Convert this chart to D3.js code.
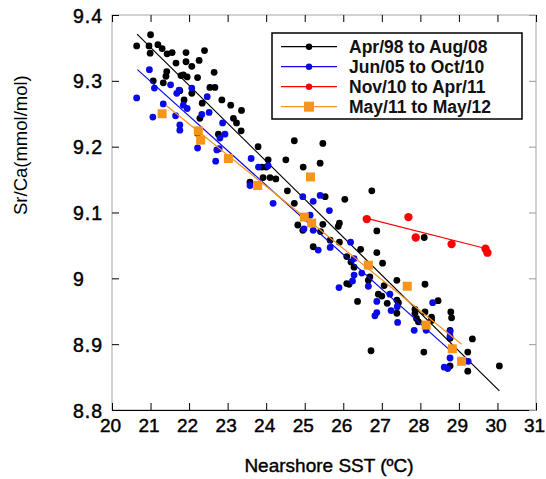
<!DOCTYPE html>
<html>
<head>
<meta charset="utf-8">
<script src="https://cdn.jsdelivr.net/npm/d3@7"></script>
<style>
  body { margin: 0; background: #fff; }
  svg { font-family: "Liberation Sans", Arial, sans-serif; }
</style>
</head>
<body>
<svg id="chart" width="546" height="479"></svg>
<script>
// Apr/98 to Aug/08 (black dots)
const aprAug = [
  [20.64, 9.353], [21.00, 9.370], [20.96, 9.353], [20.99, 9.342], [21.19, 9.355],
  [21.30, 9.349], [21.43, 9.341], [21.56, 9.343], [21.66, 9.327], [21.92, 9.343],
  [21.92, 9.329], [22.07, 9.322], [22.26, 9.331], [22.40, 9.346], [21.42, 9.314],
  [21.40, 9.307], [21.33, 9.297], [21.07, 9.300], [21.79, 9.308], [21.85, 9.309],
  [21.95, 9.306], [22.22, 9.305], [22.65, 9.313], [22.54, 9.290], [22.67, 9.290],
  [21.87, 9.271], [22.85, 9.271], [23.08, 9.263], [23.36, 9.255], [23.15, 9.243],
  [23.23, 9.236], [23.35, 9.224], [22.76, 9.219], [22.28, 9.243], [22.34, 9.266],
  [21.76, 9.285], [22.07, 9.281], [23.79, 9.200], [24.05, 9.180], [24.51, 9.180],
  [24.73, 9.209], [23.89, 9.169], [24.00, 9.169], [23.92, 9.153], [24.10, 9.153],
  [24.25, 9.151], [24.55, 9.133], [24.73, 9.114], [24.82, 9.081], [23.58, 9.146],
  [25.47, 9.205], [24.96, 9.169], [25.40, 9.175], [25.53, 9.124], [26.04, 9.120],
  [26.74, 9.133], [25.90, 9.084], [25.87, 9.079], [25.47, 9.082], [24.95, 9.073],
  [25.41, 9.071], [25.66, 9.058], [25.90, 9.055], [25.22, 9.048], [26.87, 9.072],
  [28.10, 9.062], [26.45, 9.044], [26.87, 9.039], [26.09, 9.033], [26.20, 9.025],
  [27.02, 9.023], [26.28, 9.017], [26.69, 9.002], [27.39, 8.997], [26.65, 8.997],
  [26.09, 8.992], [26.15, 8.991], [27.06, 8.989], [28.12, 8.991], [26.37, 8.965],
  [26.91, 8.976], [27.00, 8.973], [27.14, 8.962], [27.39, 8.967], [27.43, 8.963],
  [27.39, 8.947], [27.86, 8.953], [27.86, 8.947], [28.12, 8.949], [28.29, 8.941],
  [28.29, 8.936], [27.90, 8.939], [27.95, 8.934], [28.46, 8.966], [28.79, 8.949],
  [28.81, 8.940], [28.77, 8.921], [28.77, 8.909], [29.35, 8.908], [29.23, 8.888],
  [28.09, 8.888], [26.72, 8.890], [28.77, 8.867], [29.23, 8.859], [30.05, 8.867]
];

// Jun/05 to Oct/10 (blue dots)
const junOct = [
  [20.64, 9.274], [20.97, 9.317], [21.10, 9.289], [21.06, 9.245], [21.33, 9.265],
  [21.52, 9.294], [21.68, 9.281], [21.74, 9.286], [21.85, 9.263], [21.95, 9.258],
  [22.07, 9.289], [21.65, 9.247], [21.76, 9.233], [21.76, 9.225], [22.33, 9.249],
  [22.47, 9.276], [22.52, 9.252], [22.22, 9.220], [22.22, 9.198], [22.87, 9.236],
  [22.80, 9.213], [22.93, 9.219], [22.78, 9.197], [22.72, 9.195], [22.69, 9.178],
  [23.61, 9.182], [23.80, 9.169], [24.05, 9.171], [23.58, 9.141], [24.18, 9.114],
  [24.95, 9.124], [25.22, 9.117], [25.40, 9.126], [25.64, 9.103], [24.98, 9.075],
  [25.22, 9.073], [25.14, 9.096], [25.35, 9.043], [25.66, 9.047], [26.19, 9.055],
  [26.28, 9.030], [26.28, 9.005], [26.48, 9.008], [26.24, 8.996], [26.65, 8.988],
  [25.89, 8.986], [26.87, 8.965], [27.21, 8.976], [27.40, 8.957], [27.24, 8.951],
  [26.87, 8.948], [26.82, 8.943], [27.41, 8.933], [27.84, 8.921], [28.15, 8.921],
  [28.32, 8.963], [28.77, 8.919], [28.77, 8.912], [28.77, 8.879], [29.24, 8.874],
  [28.62, 8.865], [28.71, 8.863]
];

// Nov/10 to Apr/11 (red dots)
const novApr = [
  [26.61, 9.090], [27.69, 9.093], [27.88, 9.062], [28.81, 9.052], [29.69, 9.045], [29.74, 9.039]
];

// May/11 to May/12 (orange squares)
const mayMay = [
  [21.30, 9.250], [22.24, 9.224], [22.30, 9.210], [23.02, 9.182], [23.78, 9.141],
  [25.15, 9.154], [24.99, 9.093], [25.18, 9.084], [26.65, 9.020], [27.66, 8.988],
  [28.15, 8.929], [28.83, 8.893], [29.07, 8.874]
];

// regression line end points
const fitAprAug = [[20.65, 9.371], [30.05, 8.829]];
const fitJunOct = [[20.66, 9.317], [28.80, 8.889]];
const fitNovApr = [[26.61, 9.091], [29.72, 9.045]];
const fitMayMay = [[21.40, 9.263], [29.07, 8.900]];

const xTicks = [20, 21, 22, 23, 24, 25, 26, 27, 28, 29, 30, 31];
const yTicks = [8.8, 8.9, 9.0, 9.1, 9.2, 9.3, 9.4];
const yTickLabels = ["8.8", "8.9", "9", "9.1", "9.2", "9.3", "9.4"];
const legendLabels = ["Apr/98 to Aug/08", "Jun/05 to Oct/10", "Nov/10 to Apr/11", "May/11 to May/12"];

const svg = d3.select("#chart");
const plotLeft = 112, plotRight = 536, plotTop = 15, plotBottom = 410;

const x = d3.scaleLinear().domain([20, 31]).range([plotLeft, plotRight]);
const y = d3.scaleLinear().domain([8.8, 9.4]).range([plotBottom, plotTop]);

// frame
svg.append("rect")
    .attr("x", plotLeft).attr("y", plotTop)
    .attr("width", plotRight - plotLeft).attr("height", plotBottom - plotTop)
    .attr("fill", "none")
    .attr("stroke", "#b5b5b5")
    .attr("stroke-width", 1.2);

// bottom axis, ticks pointing inward
const gx = svg.append("g")
    .attr("transform", "translate(0," + plotBottom + ")")
    .call(d3.axisBottom(x).tickValues(xTicks).tickFormat(d3.format("d")).tickSizeInner(-7).tickSizeOuter(0).tickPadding(9));
gx.select(".domain").attr("stroke", "#000").attr("stroke-width", 1.2);
gx.selectAll("text")
    .attr("font-size", 19).attr("font-family", "Liberation Sans, Arial, sans-serif")
    .attr("fill", "#000").attr("stroke", "#000").attr("stroke-width", 0.45)
    .attr("dx", -2);

// top ticks
const gt = svg.append("g")
    .attr("transform", "translate(0," + plotTop + ")")
    .call(d3.axisTop(x).tickValues(xTicks).tickSizeInner(-7).tickSizeOuter(0).tickFormat(""));
gt.select(".domain").remove();

// left axis
const gy = svg.append("g")
    .attr("transform", "translate(" + plotLeft + ",0)")
    .call(d3.axisLeft(y).tickValues(yTicks).tickSizeInner(-7).tickSizeOuter(0)
        .tickFormat(function(d, i) { return yTickLabels[i]; }));
gy.select(".domain").remove();
gy.selectAll("text")
    .attr("font-size", 19.5).attr("font-family", "Liberation Sans, Arial, sans-serif")
    .attr("fill", "#000").attr("stroke", "#000").attr("stroke-width", 0.45)
    .attr("letter-spacing", 1)
    .attr("text-anchor", "start")
    .attr("x", 73 - plotLeft)
    .attr("dy", "0.36em");

// right ticks
const gr = svg.append("g")
    .attr("transform", "translate(" + plotRight + ",0)")
    .call(d3.axisRight(y).tickValues(yTicks).tickSizeInner(-7).tickSizeOuter(0).tickFormat(""));
gr.select(".domain").remove();
gr.selectAll("line").attr("stroke", "#999");

// axis titles
svg.append("text")
    .attr("x", 329).attr("y", 472)
    .attr("text-anchor", "middle")
    .attr("font-size", 19)
    .attr("stroke", "#000").attr("stroke-width", 0.4)
    .text("Nearshore SST (ºC)");

svg.append("text")
    .attr("transform", "translate(27,215) rotate(-90)")
    .attr("text-anchor", "start")
    .attr("font-size", 18.5)
    .text("Sr/Ca(mmol/mol)");

const line = d3.line().x(d => x(d[0])).y(d => y(d[1]));

function dots(data, colour, r) {
    svg.append("g").selectAll("circle")
        .data(data)
        .enter().append("circle")
        .attr("cx", d => x(d[0]))
        .attr("cy", d => y(d[1]))
        .attr("r", r)
        .attr("fill", colour);
}

function fit(data, colour) {
    svg.append("path")
        .datum(data)
        .attr("d", line)
        .attr("fill", "none")
        .attr("stroke", colour)
        .attr("stroke-width", 1.2);
}

dots(aprAug, "#000", 3.4);
fit(fitAprAug, "#000");
dots(junOct, "#0a0ae6", 3.4);
fit(fitJunOct, "#0a0ae6");
dots(novApr, "#ff0000", 4.2);
fit(fitNovApr, "#ff0000");

// orange squares
svg.append("g").selectAll("rect")
    .data(mayMay)
    .enter().append("rect")
    .attr("x", d => x(d[0]) - 4.5)
    .attr("y", d => y(d[1]) - 4.5)
    .attr("width", 9).attr("height", 9)
    .attr("fill", "#f7941d");
fit(fitMayMay, "#f7941d");

// legend
const legend = svg.append("g");
legend.append("rect")
    .attr("x", 272).attr("y", 33)
    .attr("width", 250).attr("height", 86)
    .attr("fill", "#fff")
    .attr("stroke", "#000")
    .attr("stroke-width", 1.5);

const legendColours = ["#000", "#0a0ae6", "#ff0000", "#f7941d"];
legendLabels.forEach(function(label, i) {
    const cy = 46.7 + i * 20;
    legend.append("line")
        .attr("x1", 281).attr("x2", 337)
        .attr("y1", cy).attr("y2", cy)
        .attr("stroke", legendColours[i])
        .attr("stroke-width", 1.2);
    if (i === 3) {
        legend.append("rect")
            .attr("x", 304).attr("y", cy - 5)
            .attr("width", 10).attr("height", 10)
            .attr("fill", legendColours[i]);
    } else {
        legend.append("circle")
            .attr("cx", 309).attr("cy", cy)
            .attr("r", 3.2)
            .attr("fill", legendColours[i]);
    }
    legend.append("text")
        .attr("x", 349).attr("y", cy + 6.5)
        .attr("font-size", 17.5)
        .attr("font-weight", "bold")
        .attr("fill", "#111")
        .text(label);
});
</script>
</body>
</html>
